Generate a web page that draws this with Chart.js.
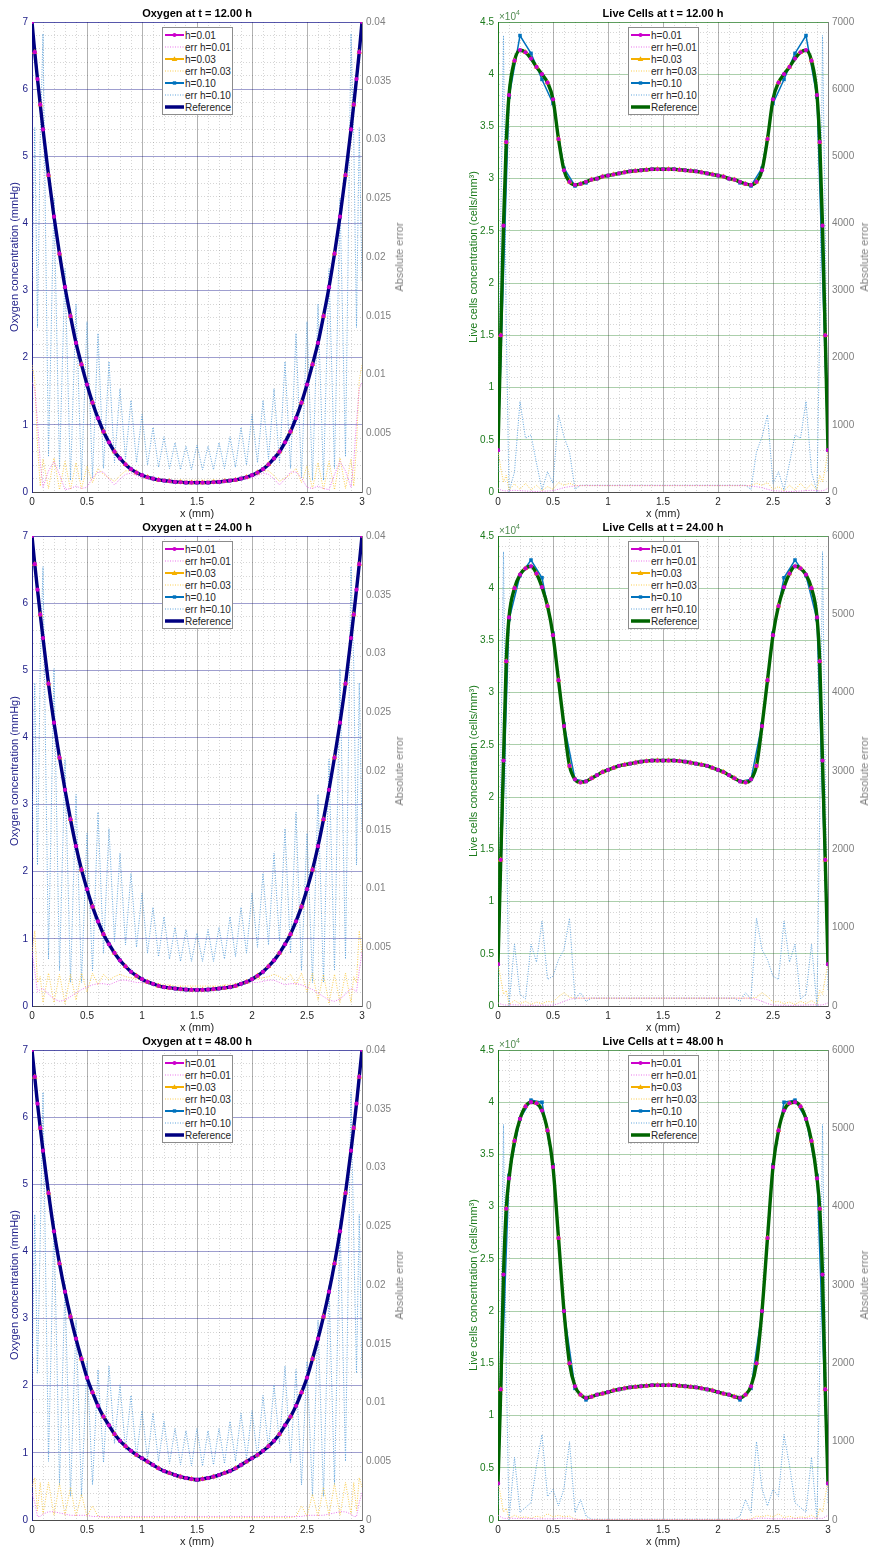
<!DOCTYPE html>
<html>
<head>
<meta charset="utf-8">
<script src="https://cdn.jsdelivr.net/npm/chart.js@4.4.1/dist/chart.umd.min.js"></script>
<style>
  html, body { margin: 0; padding: 0; background: #fff; }
  body { width: 870px; height: 1549px; position: relative; overflow: hidden; font-family: "Liberation Sans", Arial, sans-serif; }
  .cell { position: absolute; width: 435px; height: 521px; }
  .legend { position: absolute; width: 71px; box-sizing: border-box; background: #fff; border: 1px solid #8c8c8c; padding: 1px 0 1px 2px; font-size: 10px; color: #262626; }
  .legend div { display: flex; align-items: center; height: 12px; white-space: nowrap; }
  .legend svg { margin-right: 1px; flex: none; }
  .errlab { position: absolute; font-size: 11px; color: #808080; white-space: nowrap; transform: translate(-50%, -50%) rotate(-90deg); }
  .exp { position: absolute; font-size: 10px; line-height: 10px; color: #4f8a4f; }
  .exp sup { font-size: 7px; position: relative; top: -1px; }
</style>
</head>
<body>
<div id="fig"></div>
<script>
// x grid of the fine solutions (denser next to the walls)
const X = [0, 0.025, 0.05, 0.075, 0.1, 0.15, 0.2, 0.25, 0.3, 0.35, 0.4, 0.45, 0.5, 0.55, 0.6, 0.65, 0.7, 0.75, 0.8, 0.85, 0.9, 0.95,
  1, 1.05, 1.1, 1.15, 1.2, 1.25, 1.3, 1.35, 1.4, 1.45, 1.5, 1.55, 1.6, 1.65, 1.7, 1.75, 1.8, 1.85, 1.9, 1.95,
  2, 2.05, 2.1, 2.15, 2.2, 2.25, 2.3, 2.35, 2.4, 2.45, 2.5, 2.55, 2.6, 2.65, 2.7, 2.75, 2.8, 2.85, 2.9, 2.925, 2.95, 2.975, 3];
// grid of the h=0.10 solution
const X10 = [0, 0.1, 0.2, 0.3, 0.4, 0.5, 0.6, 0.7, 0.8, 0.9, 1, 1.1, 1.2, 1.3, 1.4, 1.5, 1.6, 1.7, 1.8, 1.9, 2, 2.1, 2.2, 2.3, 2.4, 2.5, 2.6, 2.7, 2.8, 2.9, 3];

const X_LABELS = [0, 0.5, 1, 1.5, 2, 2.5, 3];
const O2_LABELS = [0, 1, 2, 3, 4, 5, 6, 7];
const CELL_LABELS = [0, 0.5, 1, 1.5, 2, 2.5, 3, 3.5, 4, 4.5];
const O2_ERR_LABELS = [0, 0.005, 0.01, 0.015, 0.02, 0.025, 0.03, 0.035, 0.04];
const CELL_ERR_LABELS_7K = [0, 1000, 2000, 3000, 4000, 5000, 6000, 7000];
const CELL_ERR_LABELS_6K = [0, 1000, 2000, 3000, 4000, 5000, 6000];

// ---- oxygen, t = 12 h ----
const O2_12_REF = [7, 6.55, 6.15, 5.77, 5.4, 4.72, 4.1, 3.55, 3.05, 2.62, 2.22, 1.9, 1.6, 1.33, 1.1, 0.9, 0.74, 0.6, 0.5, 0.41, 0.34, 0.29, 0.25, 0.22, 0.2, 0.18, 0.17, 0.16, 0.15, 0.145, 0.14, 0.14, 0.14,
  0.14, 0.14, 0.145, 0.15, 0.16, 0.17, 0.18, 0.2, 0.22, 0.25, 0.29, 0.34, 0.41, 0.5, 0.6, 0.74, 0.9, 1.1, 1.33, 1.6, 1.9, 2.22, 2.62, 3.05, 3.55, 4.1, 4.72, 5.4, 5.77, 6.15, 6.55, 7];
const O2_12_H10 = [7, 5.4, 4.1, 3.05, 2.22, 1.6, 1.1, 0.74, 0.5, 0.34, 0.25, 0.2, 0.17, 0.15, 0.14, 0.14, 0.14, 0.15, 0.17, 0.2, 0.25, 0.34, 0.5, 0.74, 1.1, 1.6, 2.22, 3.05, 4.1, 5.4, 7];
const O2_12_ERR01 = [0.0093, 0.0088, 0.006, 0.0025, 0.0004, 0.0018, 0.0026, 0.0015, 0.0002, 0.0003, 0.0005, 0.0003, 0.0004, 0.0012, 0.0017, 0.0017, 0.0011, 0.0006, 0.0011, 0.0015, 0.0016, 0.0014, 0.0012, 0.0011, 0.001, 0.001, 0.0009, 0.0009, 0.0009, 0.0008, 0.0008, 0.0008, 0.0008,
  0.0008, 0.0008, 0.0008, 0.0009, 0.0009, 0.0009, 0.001, 0.001, 0.0011, 0.0012, 0.0014, 0.0016, 0.0015, 0.0011, 0.0006, 0.0011, 0.0017, 0.0017, 0.0012, 0.0004, 0.0003, 0.0005, 0.0003, 0.0002, 0.0015, 0.0026, 0.0018, 0.0004, 0.0025, 0.006, 0.0088, 0.0093];
const O2_12_ERR03 = [0.0108, 0.0095, 0.004, 0.0005, 0.0028, 0.0003, 0.0029, 0.0002, 0.0026, 0.0002, 0.0025, 0.0003, 0.0022, 0.0008, 0.002, 0.0015, 0.0012, 0.0009, 0.0014, 0.0018, 0.0018, 0.0016, 0.0014, 0.0013, 0.0012, 0.0011, 0.0011, 0.001, 0.001, 0.001, 0.001, 0.001, 0.001,
  0.001, 0.001, 0.001, 0.001, 0.001, 0.0011, 0.0011, 0.0012, 0.0013, 0.0014, 0.0016, 0.0018, 0.0018, 0.0014, 0.0009, 0.0012, 0.0015, 0.002, 0.0008, 0.0022, 0.0003, 0.0025, 0.0002, 0.0026, 0.0002, 0.0029, 0.0003, 0.0028, 0.0005, 0.004, 0.0095, 0.0108];
const O2_12_ERR10 = [0.018, 0.031, 0.014, 0.03, 0.039, 0.003, 0.025, 0.002, 0.019, 0.001, 0.016, 0.001, 0.0145, 0.0012, 0.0135, 0.002, 0.0111, 0.0025, 0.0088, 0.0028, 0.0078, 0.0025, 0.0066, 0.0023, 0.0055, 0.0021, 0.0047, 0.002, 0.0042, 0.0019, 0.0039, 0.0019, 0.004,
  0.0019, 0.0039, 0.0019, 0.0042, 0.002, 0.0047, 0.0021, 0.0055, 0.0023, 0.0066, 0.0025, 0.0078, 0.0028, 0.0088, 0.0025, 0.0111, 0.002, 0.0135, 0.0012, 0.0145, 0.001, 0.016, 0.001, 0.019, 0.002, 0.025, 0.003, 0.039, 0.03, 0.014, 0.031, 0.018];

// ---- oxygen, t = 24 h ----
const O2_24_REF = [7, 6.58, 6.2, 5.83, 5.48, 4.8, 4.22, 3.7, 3.22, 2.78, 2.38, 2.03, 1.74, 1.48, 1.26, 1.07, 0.92, 0.79, 0.68, 0.59, 0.51, 0.45, 0.4, 0.36, 0.33, 0.3, 0.28, 0.27, 0.26, 0.25, 0.245, 0.24, 0.24,
  0.24, 0.245, 0.25, 0.26, 0.27, 0.28, 0.3, 0.33, 0.36, 0.4, 0.45, 0.51, 0.59, 0.68, 0.79, 0.92, 1.07, 1.26, 1.48, 1.74, 2.03, 2.38, 2.78, 3.22, 3.7, 4.22, 4.8, 5.48, 5.83, 6.2, 6.58, 7];
const O2_24_H10 = [7, 5.48, 4.22, 3.22, 2.38, 1.74, 1.26, 0.92, 0.68, 0.51, 0.4, 0.33, 0.28, 0.26, 0.245, 0.24, 0.245, 0.26, 0.28, 0.33, 0.4, 0.51, 0.68, 0.92, 1.26, 1.74, 2.38, 3.22, 4.22, 5.48, 7];
const O2_24_ERR01 = [0.0046, 0.003, 0.0012, 0.0014, 0.0015, 0.001, 0.0006, 0.0004, 0.0005, 0.0008, 0.0011, 0.0014, 0.0016, 0.0018, 0.0019, 0.0019, 0.0018, 0.002, 0.0022, 0.0022, 0.0021, 0.002, 0.002, 0.0019, 0.0018, 0.0017, 0.0016, 0.0016, 0.0015, 0.0015, 0.0015, 0.0015, 0.0015,
  0.0015, 0.0015, 0.0015, 0.0015, 0.0016, 0.0016, 0.0017, 0.0018, 0.0019, 0.002, 0.002, 0.0021, 0.0022, 0.0022, 0.002, 0.0018, 0.0019, 0.0019, 0.0018, 0.0016, 0.0014, 0.0011, 0.0008, 0.0005, 0.0004, 0.0006, 0.001, 0.0015, 0.0014, 0.0012, 0.003, 0.0046];
const O2_24_ERR03 = [0.0045, 0.0064, 0.002, 0.0025, 0.0003, 0.0028, 0.0003, 0.0027, 0.0002, 0.0027, 0.0005, 0.0028, 0.0012, 0.0028, 0.0018, 0.0027, 0.0022, 0.0025, 0.0027, 0.0025, 0.0024, 0.0023, 0.0022, 0.0021, 0.002, 0.0019, 0.0018, 0.0018, 0.0017, 0.0017, 0.0017, 0.0017, 0.0017,
  0.0017, 0.0017, 0.0017, 0.0017, 0.0018, 0.0018, 0.0019, 0.002, 0.0021, 0.0022, 0.0023, 0.0024, 0.0025, 0.0027, 0.0025, 0.0022, 0.0027, 0.0018, 0.0028, 0.0012, 0.0028, 0.0005, 0.0027, 0.0002, 0.0027, 0.0003, 0.0028, 0.0003, 0.0025, 0.002, 0.0064, 0.0045];
const O2_24_ERR10 = [0.015, 0.0275, 0.012, 0.029, 0.0374, 0.004, 0.0287, 0.003, 0.021, 0.002, 0.018, 0.002, 0.0147, 0.003, 0.0165, 0.0045, 0.0151, 0.0055, 0.013, 0.0052, 0.0113, 0.005, 0.0096, 0.0045, 0.0084, 0.0042, 0.0076, 0.004, 0.0067, 0.0038, 0.0065, 0.0038, 0.0062,
  0.0038, 0.0065, 0.0038, 0.0067, 0.004, 0.0076, 0.0042, 0.0084, 0.0045, 0.0096, 0.005, 0.0113, 0.0052, 0.013, 0.0055, 0.0151, 0.0045, 0.0165, 0.003, 0.0147, 0.002, 0.018, 0.002, 0.021, 0.003, 0.0287, 0.004, 0.0374, 0.029, 0.012, 0.0275, 0.015];

// ---- oxygen, t = 48 h ----
const O2_48_REF = [7, 6.6, 6.2, 5.84, 5.5, 4.87, 4.3, 3.82, 3.4, 3.03, 2.7, 2.4, 2.12, 1.9, 1.7, 1.54, 1.41, 1.28, 1.18, 1.1, 1.03, 0.97, 0.92, 0.87, 0.82, 0.77, 0.73, 0.7, 0.67, 0.645, 0.625, 0.61, 0.6,
  0.61, 0.625, 0.645, 0.67, 0.7, 0.73, 0.77, 0.82, 0.87, 0.92, 0.97, 1.03, 1.1, 1.18, 1.28, 1.41, 1.54, 1.7, 1.9, 2.12, 2.4, 2.7, 3.03, 3.4, 3.82, 4.3, 4.87, 5.5, 5.84, 6.2, 6.6, 7];
const O2_48_H10 = [7, 5.5, 4.3, 3.4, 2.7, 2.12, 1.7, 1.41, 1.18, 1.03, 0.92, 0.82, 0.73, 0.67, 0.625, 0.6, 0.625, 0.67, 0.73, 0.82, 0.92, 1.03, 1.18, 1.41, 1.7, 2.12, 2.7, 3.4, 4.3, 5.5, 7];
const O2_48_ERR01 = [0.0023, 0.0015, 0.0003, 0.0003, 0.0005, 0.0007, 0.0007, 0.0006, 0.0005, 0.0004, 0.0004, 0.0004, 0.0004, 0.0003, 0.0003, 0.0003, 0.0003, 0.0003, 0.0003, 0.0003, 0.0003, 0.0003, 0.0003, 0.0003, 0.0003, 0.0003, 0.0003, 0.0003, 0.0003, 0.0003, 0.0003, 0.0003, 0.0003,
  0.0003, 0.0003, 0.0003, 0.0003, 0.0003, 0.0003, 0.0003, 0.0003, 0.0003, 0.0003, 0.0003, 0.0003, 0.0003, 0.0003, 0.0003, 0.0003, 0.0003, 0.0003, 0.0003, 0.0004, 0.0004, 0.0004, 0.0004, 0.0005, 0.0006, 0.0007, 0.0007, 0.0005, 0.0003, 0.0003, 0.0015, 0.0023];
const O2_48_ERR03 = [0.0028, 0.0036, 0.0008, 0.0032, 0.0005, 0.0032, 0.0004, 0.0031, 0.0004, 0.0028, 0.0003, 0.0022, 0.0003, 0.0012, 0.0003, 0.0002, 0.0002, 0.0002, 0.0002, 0.0002, 0.0002, 0.0002, 0.0002, 0.0002, 0.0002, 0.0002, 0.0002, 0.0002, 0.0002, 0.0002, 0.0002, 0.0002, 0.0002,
  0.0002, 0.0002, 0.0002, 0.0002, 0.0002, 0.0002, 0.0002, 0.0002, 0.0002, 0.0002, 0.0002, 0.0002, 0.0002, 0.0002, 0.0002, 0.0002, 0.0002, 0.0003, 0.0012, 0.0003, 0.0022, 0.0003, 0.0028, 0.0004, 0.0031, 0.0004, 0.0032, 0.0005, 0.0032, 0.0008, 0.0036, 0.0028];
const O2_48_ERR10 = [0.012, 0.026, 0.0125, 0.024, 0.0364, 0.005, 0.0255, 0.003, 0.02, 0.002, 0.017, 0.002, 0.0135, 0.003, 0.0128, 0.0049, 0.0131, 0.0065, 0.0115, 0.006, 0.0106, 0.0053, 0.0093, 0.0052, 0.0091, 0.005, 0.0084, 0.0048, 0.0078, 0.0047, 0.0076, 0.0046, 0.0078,
  0.0046, 0.0076, 0.0047, 0.0078, 0.0048, 0.0084, 0.005, 0.0091, 0.0052, 0.0093, 0.0053, 0.0106, 0.006, 0.0115, 0.0065, 0.0131, 0.0049, 0.0128, 0.003, 0.0135, 0.002, 0.017, 0.002, 0.02, 0.003, 0.0255, 0.005, 0.0364, 0.024, 0.0125, 0.026, 0.012];

// ---- live cells (x 10^4 cells/mm^3), t = 12 h ----
const CELL_12_REF = [0.4, 1.5, 2.55, 3.35, 3.8, 4.13, 4.23, 4.21, 4.15, 4.07, 4.0, 3.92, 3.76, 3.38, 3.08, 2.97, 2.94, 2.95, 2.97, 2.99, 3.0, 3.02, 3.03, 3.04, 3.05, 3.06, 3.07, 3.075, 3.08, 3.085, 3.09, 3.09, 3.09,
  3.09, 3.09, 3.085, 3.08, 3.075, 3.07, 3.06, 3.05, 3.04, 3.03, 3.02, 3.0, 2.99, 2.97, 2.95, 2.94, 2.97, 3.08, 3.38, 3.76, 3.92, 4.0, 4.07, 4.15, 4.21, 4.23, 4.13, 3.8, 3.35, 2.55, 1.5, 0.4];
const CELL_12_H10 = [0.4, 3.78, 4.37, 4.2, 3.95, 3.72, 3.1, 2.93, 2.96, 3.0, 3.03, 3.05, 3.07, 3.08, 3.09, 3.09, 3.09, 3.08, 3.07, 3.05, 3.03, 3.0, 2.96, 2.93, 3.1, 3.72, 3.95, 4.2, 4.37, 3.78, 0.4];
const CELL_12_ERR01 = [60, 30, 20, 15, 20, 25, 20, 15, 10, 8, 10, 15, 20, 40, 65, 80, 90, 95, 95, 95, 95, 95, 95, 95, 95, 95, 95, 95, 95, 95, 95, 95, 95,
  95, 95, 95, 95, 95, 95, 95, 95, 95, 95, 95, 95, 95, 95, 95, 90, 80, 65, 40, 20, 15, 10, 8, 10, 15, 20, 25, 20, 15, 20, 30, 60];
const CELL_12_ERR03 = [640, 350, 150, 250, 30, 120, 40, 130, 30, 100, 20, 80, 40, 140, 100, 130, 95, 95, 95, 95, 95, 95, 95, 95, 95, 95, 95, 95, 95, 95, 95, 95, 95,
  95, 95, 95, 95, 95, 95, 95, 95, 95, 95, 95, 95, 95, 95, 95, 95, 130, 100, 140, 40, 80, 20, 100, 30, 130, 40, 120, 30, 250, 150, 350, 640];
const CELL_12_ERR10 = [300, 4000, 6800, 2500, 0, 300, 1350, 800, 850, 430, 30, 300, 130, 1150, 820, 600, 40, 100, 100, 100, 100, 100, 100, 100, 100, 100, 100, 100, 100, 100, 100, 100, 100,
  100, 100, 100, 100, 100, 100, 100, 100, 100, 100, 100, 100, 100, 100, 100, 40, 600, 820, 1150, 130, 300, 30, 430, 850, 800, 1350, 300, 0, 2500, 6800, 4000, 300];

// ---- live cells, t = 24 h ----
const CELL_24_REF = [0.4, 1.4, 2.35, 3.3, 3.72, 4.0, 4.13, 4.19, 4.21, 4.14, 4.01, 3.83, 3.55, 3.12, 2.68, 2.3, 2.17, 2.14, 2.15, 2.18, 2.21, 2.24, 2.26, 2.28, 2.3, 2.31, 2.32, 2.33, 2.34, 2.345, 2.35, 2.35, 2.35,
  2.35, 2.35, 2.345, 2.34, 2.33, 2.32, 2.31, 2.3, 2.28, 2.26, 2.24, 2.21, 2.18, 2.15, 2.14, 2.17, 2.3, 2.68, 3.12, 3.55, 3.83, 4.01, 4.14, 4.21, 4.19, 4.13, 4.0, 3.72, 3.3, 2.35, 1.4, 0.4];
const CELL_24_H10 = [0.4, 3.7, 4.12, 4.27, 4.1, 3.57, 2.7, 2.17, 2.15, 2.21, 2.26, 2.3, 2.32, 2.34, 2.35, 2.35, 2.35, 2.34, 2.32, 2.3, 2.26, 2.21, 2.15, 2.17, 2.7, 3.57, 4.1, 4.27, 4.12, 3.7, 0.4];
const CELL_24_ERR01 = [40, 25, 15, 12, 15, 15, 12, 10, 8, 8, 10, 10, 12, 30, 60, 85, 100, 100, 100, 100, 100, 100, 100, 100, 100, 100, 100, 100, 100, 100, 100, 100, 100,
  100, 100, 100, 100, 100, 100, 100, 100, 100, 100, 100, 100, 100, 100, 100, 100, 85, 60, 30, 12, 10, 10, 8, 8, 10, 12, 15, 15, 12, 15, 25, 40];
const CELL_24_ERR03 = [550, 350, 150, 200, 20, 70, 30, 60, 20, 50, 30, 60, 50, 120, 170, 110, 100, 100, 100, 100, 100, 100, 100, 100, 100, 100, 100, 100, 100, 100, 100, 100, 100,
  100, 100, 100, 100, 100, 100, 100, 100, 100, 100, 100, 100, 100, 100, 100, 100, 110, 170, 120, 50, 60, 30, 50, 20, 60, 30, 70, 20, 200, 150, 350, 550];
const CELL_24_ERR10 = [200, 3000, 5800, 2500, 0, 790, 150, 90, 790, 560, 1085, 340, 380, 590, 720, 1120, 85, 170, 60, 100, 100, 100, 100, 100, 100, 100, 100, 100, 100, 100, 100, 100, 100,
  100, 100, 100, 100, 100, 100, 100, 100, 100, 100, 100, 100, 100, 60, 170, 85, 1120, 720, 590, 380, 340, 1085, 560, 790, 90, 150, 790, 0, 2500, 5800, 3000, 200];

// ---- live cells, t = 48 h ----
const CELL_48_REF = [0.35, 1.25, 2.35, 2.98, 3.27, 3.63, 3.84, 3.96, 4.0, 3.99, 3.92, 3.73, 3.38, 2.7, 2.0, 1.5, 1.28, 1.2, 1.17, 1.18, 1.2, 1.21, 1.225, 1.24, 1.25, 1.26, 1.27, 1.275, 1.28, 1.285, 1.29, 1.29, 1.29,
  1.29, 1.29, 1.285, 1.28, 1.275, 1.27, 1.26, 1.25, 1.24, 1.225, 1.21, 1.2, 1.18, 1.17, 1.2, 1.28, 1.5, 2.0, 2.7, 3.38, 3.73, 3.92, 3.99, 4.0, 3.96, 3.84, 3.63, 3.27, 2.98, 2.35, 1.25, 0.35];
const CELL_48_H10 = [0.35, 3.3, 3.84, 4.02, 4.0, 3.4, 2.0, 1.26, 1.15, 1.2, 1.225, 1.25, 1.27, 1.28, 1.29, 1.29, 1.29, 1.28, 1.27, 1.25, 1.225, 1.2, 1.15, 1.26, 2.0, 3.4, 4.0, 4.02, 3.84, 3.3, 0.35];
const CELL_48_ERR01 = [60, 40, 20, 20, 25, 20, 20, 20, 20, 15, 15, 15, 15, 20, 25, 20, 10, 5, 5, 5, 5, 5, 5, 5, 5, 5, 5, 5, 5, 5, 5, 5, 5,
  5, 5, 5, 5, 5, 5, 5, 5, 5, 5, 5, 5, 5, 5, 5, 10, 20, 25, 20, 15, 15, 15, 15, 20, 20, 20, 20, 25, 20, 20, 40, 60];
const CELL_48_ERR03 = [500, 300, 100, 150, 20, 60, 30, 40, 20, 50, 30, 80, 40, 60, 40, 50, 10, 5, 5, 5, 5, 5, 5, 5, 5, 5, 5, 5, 5, 5, 5, 5, 5,
  5, 5, 5, 5, 5, 5, 5, 5, 5, 5, 5, 5, 5, 5, 5, 10, 50, 40, 60, 40, 80, 30, 50, 20, 40, 30, 60, 20, 150, 100, 300, 500];
const CELL_48_ERR10 = [200, 2500, 5050, 2000, 0, 800, 100, 160, 220, 700, 1090, 300, 390, 180, 400, 1000, 95, 260, 50, 10, 10, 10, 10, 10, 10, 10, 10, 10, 10, 10, 10, 10, 10,
  10, 10, 10, 10, 10, 10, 10, 10, 10, 10, 10, 10, 10, 50, 260, 95, 1000, 400, 180, 390, 300, 1090, 700, 220, 160, 100, 800, 0, 2000, 5050, 2500, 200];

// ---------------------------------------------------------------------------

const MAG = "#cc00cc", MAG_ERR = "rgba(232,100,232,0.9)";
const YEL = "#f5b000", YEL_ERR = "rgba(250,200,60,0.9)";
const BLU = "#0072bd", BLU_ERR = "rgba(85,158,218,0.95)";
const MINOR = "rgba(0,0,0,0.16)";
const MAJOR_V = "rgba(0,0,0,0.3)";

const KINDS = {
  o2: {
    axisColor: "#22228a", majorH: "rgba(0,0,128,0.38)", refColor: "#000080", topColor: "rgba(0,0,128,0.45)",
    yTitle: "Oxygen concentration (mmHg)", yMax: 7, yStep: 0.2, yLabels: O2_LABELS,
    yWidth: 32, yTitlePad: 8.4, padRight: 33, center: 197, errX: 399
  },
  cells: {
    axisColor: "#1b7a1b", majorH: "rgba(0,110,0,0.33)", refColor: "#006400", topColor: "rgba(0,100,0,0.45)",
    yTitle: "Live cells concentration (cells/mm\u00b3)", yMax: 4.5, yStep: 0.1, yLabels: CELL_LABELS,
    yWidth: 63, yTitlePad: 32.4, padRight: 2, center: 228, errX: 429
  }
};

const PANELS = [
  { row: 0, col: 0, kind: "o2", title: "Oxygen at t = 12.00 h", ref: O2_12_REF, h10: O2_12_H10, e01: O2_12_ERR01, e03: O2_12_ERR03, e10: O2_12_ERR10, errLabels: O2_ERR_LABELS },
  { row: 0, col: 1, kind: "cells", title: "Live Cells at t = 12.00 h", ref: CELL_12_REF, h10: CELL_12_H10, e01: CELL_12_ERR01, e03: CELL_12_ERR03, e10: CELL_12_ERR10, errLabels: CELL_ERR_LABELS_7K },
  { row: 1, col: 0, kind: "o2", title: "Oxygen at t = 24.00 h", ref: O2_24_REF, h10: O2_24_H10, e01: O2_24_ERR01, e03: O2_24_ERR03, e10: O2_24_ERR10, errLabels: O2_ERR_LABELS },
  { row: 1, col: 1, kind: "cells", title: "Live Cells at t = 24.00 h", ref: CELL_24_REF, h10: CELL_24_H10, e01: CELL_24_ERR01, e03: CELL_24_ERR03, e10: CELL_24_ERR10, errLabels: CELL_ERR_LABELS_6K },
  { row: 2, col: 0, kind: "o2", title: "Oxygen at t = 48.00 h", ref: O2_48_REF, h10: O2_48_H10, e01: O2_48_ERR01, e03: O2_48_ERR03, e10: O2_48_ERR10, errLabels: O2_ERR_LABELS },
  { row: 2, col: 1, kind: "cells", title: "Live Cells at t = 48.00 h", ref: CELL_48_REF, h10: CELL_48_H10, e01: CELL_48_ERR01, e03: CELL_48_ERR03, e10: CELL_48_ERR10, errLabels: CELL_ERR_LABELS_6K }
];

Chart.defaults.font.family = '"Liberation Sans", Arial, sans-serif';
Chart.defaults.font.size = 10;
Chart.defaults.color = "#262626";

function near(v, list) {
  return list.some(function (l) { return Math.abs(l - v) < 1e-6; });
}

function steps(max, step) {
  const out = [];
  const n = Math.round(max / step);
  for (let i = 0; i <= n; i++) out.push(+(i * step).toFixed(4));
  return out;
}

function pts(xs, ys) {
  return xs.map(function (x, i) { return { x: x, y: ys[i] }; });
}

function fixedTicks(list) {
  return function (s) { s.ticks = list.map(function (v) { return { value: v }; }); };
}

function dashFor(labels) {
  return function (c) { return c.tick && !near(c.tick.value, labels) ? [1, 2] : []; };
}

function buildScales(p, k) {
  const xTicks = steps(3, 0.1);
  const yTicks = steps(k.yMax, k.yStep);
  const errMax = p.errLabels[p.errLabels.length - 1];
  return {
    x: {
      type: "linear", min: 0, max: 3,
      afterBuildTicks: fixedTicks(xTicks),
      afterFit: function (s) { s.height = 29; s.paddingLeft = 0; s.paddingRight = 0; },
      ticks: { autoSkip: false, maxRotation: 0, padding: 4, color: "#262626",
        callback: function (v) { return near(v, X_LABELS) ? String(v) : ""; } },
      grid: { drawTicks: false, color: function (c) { return c.tick && near(c.tick.value, X_LABELS) ? MAJOR_V : MINOR; } },
      border: { color: "#4d4d4d", dash: dashFor(X_LABELS) },
      title: { display: true, text: "x (mm)", color: "#262626", font: { size: 11 }, padding: 0 }
    },
    xTop: {
      type: "linear", position: "top", min: 0, max: 3,
      afterFit: function (s) { s.height = 0; s.paddingLeft = 0; s.paddingRight = 0; },
      ticks: { display: false },
      grid: { display: false, drawTicks: false },
      border: { color: k.topColor }
    },
    y: {
      type: "linear", position: "left", min: 0, max: k.yMax,
      afterBuildTicks: fixedTicks(yTicks),
      afterFit: function (s) { s.width = k.yWidth; s.paddingTop = 0; s.paddingBottom = 0; },
      ticks: { autoSkip: false, padding: 4, color: k.axisColor,
        callback: function (v) { return near(v, k.yLabels) ? String(v) : ""; } },
      grid: { drawTicks: false, color: function (c) { return c.tick && near(c.tick.value, k.yLabels) ? k.majorH : MINOR; } },
      border: { color: k.axisColor, dash: dashFor(k.yLabels) },
      title: { display: true, text: k.yTitle, color: k.axisColor, font: { size: 11 }, padding: { top: k.yTitlePad, bottom: 0 } }
    },
    y2: {
      type: "linear", position: "right", min: 0, max: errMax,
      afterBuildTicks: fixedTicks(p.errLabels),
      afterFit: function (s) { s.width = 40; s.paddingTop = 0; s.paddingBottom = 0; },
      ticks: { autoSkip: false, padding: 4, color: "#808080", callback: function (v) { return String(v); } },
      grid: { drawOnChartArea: false, drawTicks: false },
      border: { color: "#808080" }
    }
  };
}

function buildDatasets(p, k) {
  const err = { xAxisID: "x", yAxisID: "y2", borderWidth: 1, borderDash: [1, 1.5], pointRadius: 0, fill: false };
  const smooth = { xAxisID: "x", yAxisID: "y", pointRadius: 0, fill: false, cubicInterpolationMode: "monotone" };
  return [
    Object.assign({ label: "err h=0.10", data: pts(X, p.e10), borderColor: BLU_ERR, order: 9 }, err),
    Object.assign({ label: "err h=0.03", data: pts(X, p.e03), borderColor: YEL_ERR, order: 8 }, err),
    Object.assign({ label: "err h=0.01", data: pts(X, p.e01), borderColor: MAG_ERR, order: 7 }, err),
    { label: "h=0.10", data: pts(X10, p.h10), xAxisID: "x", yAxisID: "y", borderColor: BLU, borderWidth: 1.5, fill: false,
      pointStyle: "rect", pointRadius: 2.5, pointBackgroundColor: BLU, pointBorderColor: BLU, pointBorderWidth: 0, order: 6 },
    Object.assign({ label: "h=0.03", data: pts(X, p.ref), borderColor: YEL, borderWidth: 1.5, order: 5 }, smooth),
    Object.assign({ label: "h=0.01", data: pts(X, p.ref), borderColor: MAG, borderWidth: 1.5, order: 4 }, smooth),
    Object.assign({ label: "Reference", data: pts(X, p.ref), borderColor: k.refColor, borderWidth: 3.4, order: 3 }, smooth),
    { label: "h=0.03 markers", data: pts(X, p.ref), xAxisID: "x", yAxisID: "y", showLine: false, pointStyle: "triangle",
      pointRadius: function (c) { return c.dataIndex % 2 === 1 ? 3.2 : 0; },
      pointBackgroundColor: YEL, pointBorderColor: YEL, pointBorderWidth: 0, order: 2 },
    { label: "h=0.01 markers", data: pts(X, p.ref), xAxisID: "x", yAxisID: "y", showLine: false, pointStyle: "circle",
      pointRadius: 2.1, pointBackgroundColor: MAG, pointBorderColor: MAG, pointBorderWidth: 0, order: 1 }
  ];
}

function sample(color, width, dash, marker) {
  let s = '<svg width="19" height="10" viewBox="0 0 19 10"><line x1="0" y1="5" x2="19" y2="5" stroke="' + color +
    '" stroke-width="' + width + '"' + (dash ? ' stroke-dasharray="' + dash + '"' : "") + "/>";
  if (marker === "circle") s += '<circle cx="9.5" cy="5" r="2" fill="' + color + '"/>';
  if (marker === "triangle") s += '<polygon points="9.5,2.2 12.3,7 6.7,7" fill="' + color + '"/>';
  if (marker === "square") s += '<rect x="7.8" y="3.3" width="3.4" height="3.4" fill="' + color + '"/>';
  return s + "</svg>";
}

function legendHtml(refColor) {
  const rows = [
    ["h=0.01", MAG, 2, "", "circle"],
    ["err h=0.01", MAG_ERR, 1, "1,1.5", ""],
    ["h=0.03", YEL, 2, "", "triangle"],
    ["err h=0.03", YEL_ERR, 1, "1,1.5", ""],
    ["h=0.10", BLU, 2, "", "square"],
    ["err h=0.10", BLU_ERR, 1, "1,1.5", ""],
    ["Reference", refColor, 3.5, "", ""]
  ];
  return rows.map(function (r) {
    return "<div>" + sample(r[1], r[2], r[3], r[4]) + "<span>" + r[0] + "</span></div>";
  }).join("");
}

const fig = document.getElementById("fig");

PANELS.forEach(function (p) {
  const k = KINDS[p.kind];
  const left = p.col * 435;
  const top = p.row * 514;

  const cell = document.createElement("div");
  cell.className = "cell";
  cell.style.left = left + "px";
  cell.style.top = top + "px";
  const canvas = document.createElement("canvas");
  cell.appendChild(canvas);
  fig.appendChild(cell);

  new Chart(canvas, {
    type: "line",
    data: { datasets: buildDatasets(p, k) },
    options: {
      responsive: true,
      maintainAspectRatio: false,
      animation: false,
      events: [],
      layout: { padding: { left: 0, right: k.padRight, top: 0, bottom: 0 } },
      scales: buildScales(p, k),
      plugins: {
        legend: { display: false },
        tooltip: { enabled: false },
        title: { display: true, text: p.title, color: "#000", fullSize: false,
          font: { size: 11, weight: "bold" }, padding: { top: 7, bottom: 1.8 } }
      }
    }
  });

  const lg = document.createElement("div");
  lg.className = "legend";
  lg.style.left = (left + k.center - 35) + "px";
  lg.style.top = (top + 27) + "px";
  lg.innerHTML = legendHtml(k.refColor);
  fig.appendChild(lg);

  const el = document.createElement("div");
  el.className = "errlab";
  el.style.left = (left + k.errX) + "px";
  el.style.top = (top + 257) + "px";
  el.textContent = "Absolute error";
  fig.appendChild(el);

  if (p.kind === "cells") {
    const ex = document.createElement("div");
    ex.className = "exp";
    ex.style.left = (left + k.yWidth + 1) + "px";
    ex.style.top = (top + 9) + "px";
    ex.innerHTML = "\u00d710<sup>4</sup>";
    fig.appendChild(ex);
  }
});
</script>
</body>
</html>
